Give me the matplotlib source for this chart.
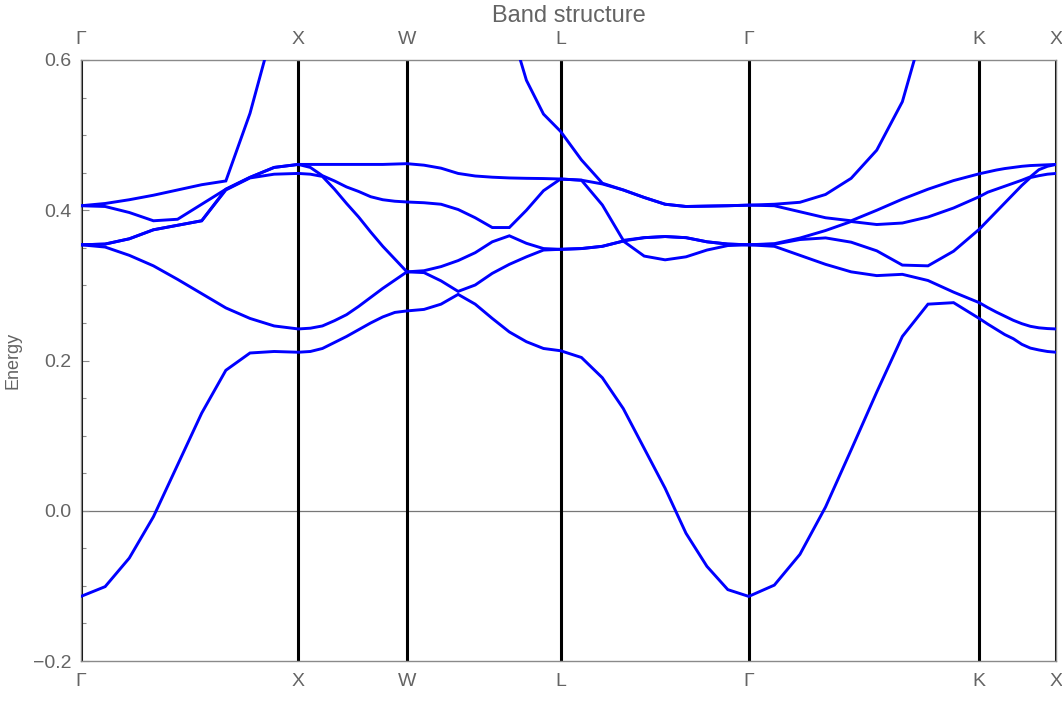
import numpy as np
import matplotlib
matplotlib.use("Agg")
import matplotlib.pyplot as plt
from matplotlib.ticker import MultipleLocator

# High-symmetry path and segment lengths (units of 2*pi/a)
kpoint_labels = ["Γ", "X", "W", "L", "Γ", "K", "X"]
segment_lengths = [1.0, 0.5, np.sqrt(2) / 2, np.sqrt(3) / 2, 3 * np.sqrt(2) / 4, np.sqrt(2) / 4]
points_per_segment = 10

# Band energies along the path (10 samples per segment, shared end points)
band1 = [-0.114, -0.101, -0.063, -0.008, 0.061, 0.130, 0.187, 0.210, 0.212, 0.211,
         0.212, 0.216, 0.224, 0.232, 0.241, 0.250, 0.258, 0.264, 0.266,
         0.268, 0.275, 0.288, 0.275, 0.256, 0.238, 0.225, 0.216, 0.213,
         0.204, 0.177, 0.136, 0.083, 0.030, -0.030, -0.074, -0.105, -0.114,
         -0.099, -0.058, 0.005, 0.081, 0.158, 0.232, 0.275, 0.277, 0.256,
         0.2485, 0.2415, 0.2345, 0.229, 0.2215, 0.2165, 0.214, 0.212, 0.211]
band2 = [0.354, 0.351, 0.340, 0.326, 0.308, 0.289, 0.270, 0.256, 0.246, 0.242,
         0.243, 0.246, 0.253, 0.261, 0.272, 0.284, 0.296, 0.307, 0.318,
         0.317, 0.306, 0.292, 0.3005, 0.316, 0.328, 0.338, 0.347, 0.348,
         0.349, 0.352, 0.359, 0.339, 0.334, 0.338, 0.347, 0.353, 0.354,
         0.352, 0.340, 0.328, 0.318, 0.313, 0.3147, 0.3065, 0.291, 0.277,
         0.2705, 0.2645, 0.259, 0.2535, 0.249, 0.2455, 0.2435, 0.2425, 0.242]
band3 = [0.354, 0.355, 0.362, 0.374, 0.380, 0.386, 0.427, 0.443, 0.448, 0.449,
         0.448, 0.445, 0.428, 0.409, 0.391, 0.371, 0.352, 0.335, 0.318,
         0.3195, 0.325, 0.333, 0.3435, 0.358, 0.366, 0.356, 0.349, 0.348,
         0.349, 0.352, 0.359, 0.3635, 0.365, 0.3635, 0.358, 0.355, 0.354,
         0.3548, 0.361, 0.3632, 0.3575, 0.346, 0.327, 0.326, 0.3455, 0.3746,
         0.3863, 0.398, 0.4097, 0.4214, 0.4331, 0.4435, 0.446, 0.448, 0.449]
band4 = [0.354, 0.355, 0.362, 0.374, 0.380, 0.386, 0.428, 0.4438, 0.457, 0.461,
         0.457, 0.446, 0.439, 0.431, 0.425, 0.418, 0.414, 0.412, 0.411,
         0.410, 0.408, 0.401, 0.390, 0.377, 0.377, 0.400, 0.426, 0.4416,
         0.440, 0.407, 0.360, 0.3635, 0.365, 0.3635, 0.358, 0.355, 0.354,
         0.3555, 0.363, 0.373, 0.385, 0.381, 0.383, 0.391, 0.403, 0.418,
         0.424, 0.428, 0.432, 0.436, 0.440, 0.4445, 0.454, 0.4585, 0.461]
band5 = [0.406, 0.405, 0.397, 0.386, 0.388, 0.408, 0.428, 0.4438, 0.457, 0.461,
         0.461, 0.461, 0.461, 0.461, 0.461, 0.461, 0.461, 0.4615, 0.462,
         0.460, 0.456, 0.449, 0.4456, 0.444, 0.443, 0.4425, 0.4422, 0.4416,
         0.440, 0.435, 0.427, 0.417, 0.408, 0.405, 0.4055, 0.406, 0.4068,
         0.406, 0.398, 0.390, 0.386, 0.400, 0.4148, 0.428, 0.4395, 0.4485,
         0.451, 0.4535, 0.4555, 0.457, 0.4585, 0.4595, 0.460, 0.4605, 0.461]
band6 = [0.406, 0.409, 0.414, 0.420, 0.427, 0.434, 0.439, 0.529, 0.647, 0.72,
         0.74, 0.76, 0.78, 0.80, 0.80, 0.80, 0.80, 0.80, 0.80,
         0.80, 0.80, 0.79, 0.77, 0.73, 0.649, 0.573, 0.528, 0.505,
         0.467, 0.436, 0.427, 0.417, 0.408, 0.405, 0.4055, 0.406, 0.4068,
         0.408, 0.4106, 0.421, 0.4425, 0.480, 0.5445, 0.664, 0.76, 0.82,
         0.82, 0.80, 0.78, 0.76, 0.75, 0.74, 0.73, 0.725, 0.72]
bands = [band1, band2, band3, band4, band5, band6]

y_ticks = [-0.2, 0.0, 0.2, 0.4, 0.6]
y_tick_labels = ["\u22120.2", "0.0", "0.2", "0.4", "0.6"]

# k-distance coordinates
boundaries = np.concatenate([[0.0], np.cumsum(segment_lengths)])
kx = [boundaries[0]]
for i in range(len(segment_lengths)):
    seg = np.linspace(boundaries[i], boundaries[i + 1], points_per_segment)
    kx.extend(seg[1:])
kx = np.array(kx)

plt.rcParams["font.family"] = ["Liberation Sans", "DejaVu Sans"]
gray_text = "#646464"
frame_gray = "#8a8a8a"

W, H = 1062, 726
fig = plt.figure(figsize=(W / 100, H / 100), dpi=100)
ax = fig.add_axes([81 / W, (H - 661) / H, 975 / W, 601 / H])

ax.set_xlim(boundaries[0], boundaries[-1])
ax.set_ylim(-0.2, 0.6)

# zero axis line
ax.axhline(0.0, color="#777777", lw=0.9, zorder=1)
# high-symmetry vertical lines
for b in boundaries:
    ax.axvline(b, color="black", lw=2.2, zorder=2)

for band in bands:
    ax.plot(kx, band, color="#0000ff", lw=2.1, zorder=3, solid_joinstyle="miter")

for s in ax.spines.values():
    s.set_color(frame_gray)
    s.set_linewidth(1.0)

ax.set_xticks(boundaries)
ax.set_xticklabels(kpoint_labels)
ax.tick_params(axis="x", which="both", length=0, top=True, labeltop=True,
               bottom=True, labelbottom=True, labelsize=14, colors=gray_text, pad=9)

ax.set_yticks(y_ticks)
ax.set_yticklabels(y_tick_labels)
ax.yaxis.set_minor_locator(MultipleLocator(0.05))
ax.tick_params(axis="y", which="major", direction="in", length=6, width=0.8,
               color=frame_gray, labelsize=14, labelcolor=gray_text, pad=7)
ax.tick_params(axis="y", which="minor", direction="in", length=3.5, width=0.8,
               color=frame_gray)

ax.set_ylabel("Energy", fontsize=13, color=gray_text)
ax.yaxis.set_label_coords(-0.061, 0.5)

fig.text(568.5 / W, 1 - 22 / H, "Band structure", ha="center", va="baseline",
         fontsize=17, color=gray_text)

fig.savefig("out.png", dpi=100)
